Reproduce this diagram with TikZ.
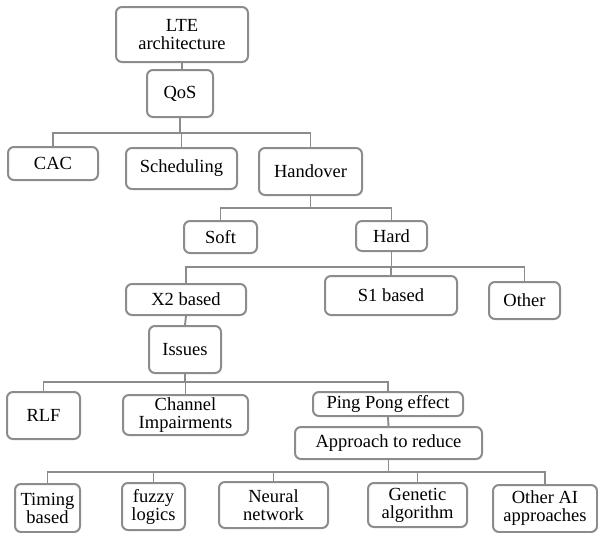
\documentclass[tikz,border=0pt]{standalone}
\usepackage{fontspec}
\setmainfont{Liberation Serif}
\definecolor{linegray}{RGB}{140,140,140}
\begin{document}
\begin{tikzpicture}[x=1pt,y=-1pt,
  box/.style={draw=linegray, line width=2pt, rounded corners=6pt, fill=white,
    inner sep=1pt, align=center, font=\fontsize{18.5}{18}\selectfont},
  link/.style={draw=linegray, line width=1.9pt}]
\useasboundingbox (0,0) rectangle (598,533);

% boxes
\node[box, minimum width=132pt, minimum height=55pt] (lte)   at (182,34.5)   {LTE\\architecture};
\node[box, minimum width=66pt,  minimum height=47pt] (qos)   at (180,93.5)   {QoS};
\node[box, minimum width=90pt,  minimum height=33pt] (cac)   at (53,163.5)   {CAC};
\node[box, minimum width=111pt, minimum height=41pt] (sched) at (181.5,168.5) {Scheduling};
\node[box, minimum width=103pt, minimum height=47pt] (hand)  at (310.5,171.5) {Handover};
\node[box, minimum width=73pt,  minimum height=32pt] (soft)  at (220.5,237)   {Soft};
\node[box, minimum width=71pt,  minimum height=30pt] (hard)  at (391.5,236)   {Hard};
\node[box, minimum width=120pt, minimum height=31pt] (x2)    at (186,299.5)   {X2 based};
\node[box, minimum width=132pt, minimum height=39pt] (s1)    at (391,295.5)   {S1 based};
\node[box, minimum width=71pt,  minimum height=37pt] (oth)   at (524.5,300.5) {Other};
\node[box, minimum width=72pt,  minimum height=47pt] (iss)   at (185,349.5)   {Issues};
\node[box, minimum width=73pt,  minimum height=47pt] (rlf)   at (43.5,415.5)  {RLF};
\node[box, minimum width=125pt, minimum height=40pt] (chan)  at (185.5,415)   {Channel\\Impairments};
\node[box, minimum width=150pt, minimum height=24pt] (ping)  at (388,404)     {Ping Pong effect};
\node[box, minimum width=187pt, minimum height=32pt] (appr)  at (388.5,443)   {Approach to reduce};
\node[box, minimum width=65pt,  minimum height=48pt] (tim)   at (47.5,508)    {Timing\\based};
\node[box, minimum width=63pt,  minimum height=47pt] (fuz)   at (153.5,506.5) {fuzzy\\logics};
\node[box, minimum width=109pt, minimum height=46pt] (neu)   at (273.5,505)   {Neural\\network};
\node[box, minimum width=99pt,  minimum height=44pt] (gen)   at (417.5,505)   {Genetic\\algorithm};
\node[box, minimum width=104pt, minimum height=47pt] (oai)   at (545,508.5)   {Other AI\\approaches};

% bus heights
\coordinate (bq) at (0,133);
\coordinate (bh) at (0,208);
\coordinate (bd) at (0,267);
\coordinate (bi) at (0,382);
\coordinate (ba) at (0,472);

% connectors
\draw[link] (lte.south) -- (lte.south |- qos.north);

\draw[link] (qos.south) -- (qos.south |- bq);
\draw[link] (cac.north) |- (hand.north |- bq) -- (hand.north);
\draw[link] (sched.north) -- (sched.north |- bq);

\draw[link] (hand.south) -- (hand.south |- bh);
\draw[link] (soft.north) |- (hard.north |- bh) -- (hard.north);

\draw[link] (hard.south) -- (hard.south |- bd);
\draw[link] (x2.north) |- (oth.north |- bd) -- (oth.north);
\draw[link] (s1.north) -- (s1.north |- bd);

\draw[link] (x2.south) -- (iss.north);

\draw[link] (iss.south) -- (iss.south |- bi);
\draw[link] (rlf.north) |- (ping.north |- bi) -- (ping.north);
\draw[link] (chan.north) -- (chan.north |- bi);

\draw[link] (ping.south) -- (appr.north);

\draw[link] (appr.south) -- (appr.south |- ba);
\draw[link] (tim.north) |- (oai.north |- ba) -- (oai.north);
\draw[link] (fuz.north) -- (fuz.north |- ba);
\draw[link] (neu.north) -- (neu.north |- ba);
\draw[link] (gen.north) -- (gen.north |- ba);
\end{tikzpicture}
\end{document}
